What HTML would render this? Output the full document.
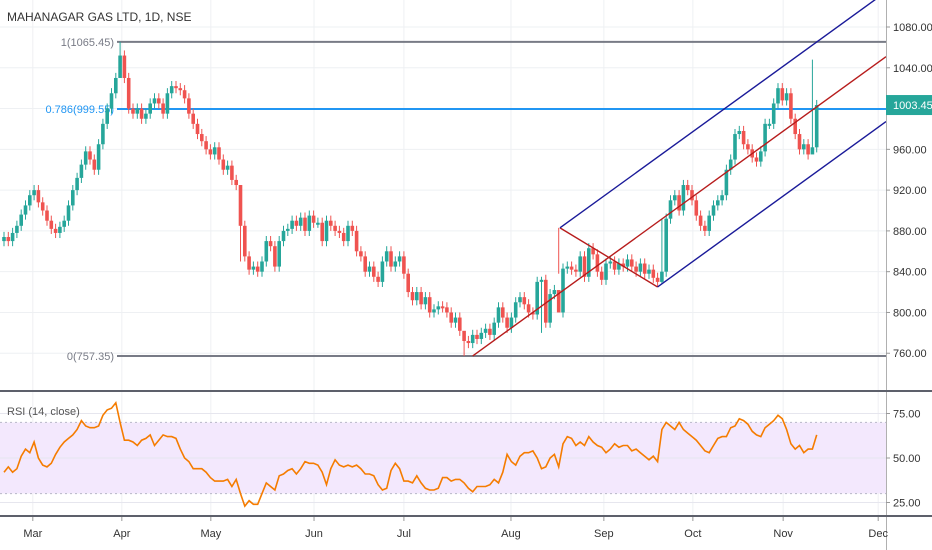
<!DOCTYPE html>
<html><head><meta charset="utf-8"><style>
html,body{margin:0;padding:0;background:#fff;}
svg{display:block;font-family:"Liberation Sans",sans-serif;}
</style></head><body>
<svg id="chart" width="932" height="550" viewBox="0 0 932 550"></svg>
<script>
const closes=[874,870,878,885,896,905,915,920,908,900,890,882,878,884,890,905,920,932,945,958,950,940,965,985,1000,1015,1030,1052,1030,1000,995,1000,990,995,1005,1010,1005,995,1015,1022,1020,1018,1010,995,985,975,968,960,955,962,950,940,944,930,925,885,855,842,845,840,850,870,865,845,870,880,882,890,885,893,880,895,888,888,870,890,885,880,878,870,885,880,860,855,840,845,835,830,850,860,845,850,855,838,820,812,820,808,815,800,803,806,805,800,790,795,782,772,770,778,774,780,784,778,790,805,795,785,795,810,815,808,800,798,830,832,790,818,822,800,843,845,842,840,855,835,863,857,840,832,848,850,842,848,845,852,845,840,848,838,842,834,830,840,892,910,915,900,925,920,910,895,885,880,895,905,910,915,940,950,975,978,965,960,952,948,958,985,985,1005,1020,1008,1015,990,975,960,965,955,962,1003.45];
const rsi=[42,45,42,44,51,55,53,59,50,46,45,47,52,56,59,61,63,66,71,68,67,67,68,74,77,78,81,70,60,60,59,57,60,61,63,57,60,63,62,62,61,55,50,48,44,44,44,42,39,37,37,37,38,34,38,30,23,26,24,24,30,36,34,32,40,41,43,44,41,44,48,47,47,46,42,35,44,49,46,45,46,45,46,44,41,41,40,35,32,33,43,47,44,37,37,36,40,36,33,32,32,33,39,39,37,38,38,36,33,31,34,34,34,35,38,36,42,52,48,46,51,53,53,54,50,44,45,50,52,45,58,62,61,57,59,57,62,59,57,56,53,55,58,56,57,57,54,55,53,51,49,51,48,66,70,68,66,70,66,64,62,60,57,54,53,57,61,62,62,67,68,72,71,69,65,63,62,67,69,71,74,72,66,58,55,57,53,55,55,63];
const wickOverrides={27:[1065.45,1040],188:[1048,960],153:[892,828],129:[883,838],125:[835,780],55:[925,850],107:[778,757.35]};
const priceTicks=[760,800,840,880,920,960,1000,1040,1080];
const rsiTicks=[25,50,75];
const monthLabels=["Mar","Apr","May","Jun","Jul","Aug","Sep","Oct","Nov","Dec"];
const monthIdx=[6.7,27.4,48.1,72.1,93,117.9,139.5,160.2,181.2,203.3];
const fibLevels=[{label:"1(1065.45)",p:1065.45,c:"#787b86"},{label:"0.786(999.55)",p:999.55,c:"#2196f3"},{label:"0(757.35)",p:757.35,c:"#787b86"}];
const forkI=[109,129.3,152];
const forkP=[757.35,883,825];
const lastPrice=1003.45;

const NS="http://www.w3.org/2000/svg";
const svg=document.getElementById('chart');
const X=i=>4+i*4.3;
const Y=p=>27+(1080-p)*1.0195;
const RY=v=>458-(v-50)*1.78;
function mk(tag,attrs,parent){const e=document.createElementNS(NS,tag);for(const k in attrs)e.setAttribute(k,attrs[k]);(parent||svg).appendChild(e);return e;}

const grid=mk('g',{});


priceTicks.forEach(p=>{const l=mk('line',{x1:0,x2:886,y1:Y(p),y2:Y(p),stroke:'#eef0f3','stroke-width':1},grid);});
monthIdx.forEach(m=>{const l=mk('line',{x1:X(m),x2:X(m),y1:0,y2:516,stroke:'#eef0f3','stroke-width':1},grid);});

const band=mk('rect',{x:0,y:RY(70),width:886,height:RY(30)-RY(70),fill:'#f3e8fd'});


rsiTicks.forEach(v=>{const l=mk('line',{x1:0,x2:886,y1:RY(v),y2:RY(v),stroke:'#e6e6ee','stroke-width':1});});
[70,30].forEach(v=>{const l=mk('line',{x1:0,x2:886,y1:RY(v),y2:RY(v),stroke:'#b8b8c8','stroke-width':1,'stroke-dasharray':'2,3'});});

fibLevels.forEach(f=>{
 const l=mk('line',{x1:117,x2:886,y1:Y(f.p),y2:Y(f.p),stroke:f.c,'stroke-width':2});
 
 
 const t=mk('text',{x:114,y:Y(f.p)+4,'text-anchor':'end','font-size':11,fill:f.c});
 t.textContent=f.label;
 
 
});

const cg=mk('g',{});


closes.forEach((c,i)=>{
 const o=i===0?c-4:closes[i-1];
 const up=c>=o;
 const col=up?'#26a69a':'#ef5350';
 let hi=Math.max(o,c)+5, lo=Math.min(o,c)-5;
 if(wickOverrides[i]){hi=wickOverrides[i][0];lo=wickOverrides[i][1];}
 const g=mk('g',{},cg);
 
 
 mk('line',{x1:X(i),x2:X(i),y1:Y(hi),y2:Y(lo),stroke:col,'stroke-width':1},g);
 const top=Y(Math.max(o,c)),h=Math.max(2,Math.abs(Y(o)-Y(c)));
 mk('rect',{x:X(i)-1.8,y:top,width:3.6,height:h,fill:col},g);
});

const fx=forkI.map(X), fy=forkP.map(Y);
const mx=(fx[1]+fx[2])/2, my=(fy[1]+fy[2])/2;
const slope=(my-fy[0])/(mx-fx[0]);
const ext=(x0,y0)=>[886,y0+slope*(886-x0)];
const med=ext(fx[0],fy[0]);
const ml=mk('line',{x1:fx[0],y1:fy[0],x2:med[0],y2:med[1],stroke:'#b71c1c','stroke-width':1.4});


const hl=mk('line',{x1:fx[1],y1:fy[1],x2:fx[2],y2:fy[2],stroke:'#b71c1c','stroke-width':1.4});


const u=ext(fx[1],fy[1]);
const ul=mk('line',{x1:fx[1],y1:fy[1],x2:u[0],y2:u[1],stroke:'#1a1a99','stroke-width':1.4});


const d=ext(fx[2],fy[2]);
const dl=mk('line',{x1:fx[2],y1:fy[2],x2:d[0],y2:d[1],stroke:'#1a1a99','stroke-width':1.4});



const pts=rsi.map((v,i)=>X(i).toFixed(1)+','+RY(v).toFixed(1)).join(' ');
const rl=mk('polyline',{points:pts,fill:'none',stroke:'#f57c00','stroke-width':1.6});



mk('rect',{x:886,y:0,width:46,height:550,fill:'#fff'});
mk('rect',{x:0,y:517,width:932,height:33,fill:'#fff'});
const ax=mk('line',{x1:886.5,x2:886.5,y1:0,y2:550,stroke:'#b0b0b0','stroke-width':1});


[391,516].forEach(y=>{const l=mk('line',{x1:0,x2:932,y1:y,y2:y,stroke:'#5d606b','stroke-width':2});});
priceTicks.forEach(p=>{
 const t=mk('text',{x:893,y:Y(p)+4,'font-size':11,fill:'#333'});t.textContent=p.toFixed(2);
 
 
 mk('line',{x1:886,x2:890,y1:Y(p),y2:Y(p),stroke:'#999'});
});
rsiTicks.forEach(v=>{
 const t=mk('text',{x:893,y:RY(v)+4,'font-size':11,fill:'#333'});t.textContent=v.toFixed(2);
 
 
 mk('line',{x1:886,x2:890,y1:RY(v),y2:RY(v),stroke:'#999'});
});
monthLabels.forEach((m,k)=>{
 const t=mk('text',{x:X(monthIdx[k]),y:537,'text-anchor':'middle','font-size':11,fill:'#333'});t.textContent=m;
 
 
 mk('line',{x1:X(monthIdx[k]),x2:X(monthIdx[k]),y1:517,y2:521,stroke:'#999'});
});
const pl=mk('rect',{x:886,y:Y(lastPrice)-10,width:46,height:20,fill:'#26a69a'});


const plt=mk('text',{x:893,y:Y(lastPrice)+4,'font-size':11,fill:'#fff'});plt.textContent=lastPrice.toFixed(2);



const title=mk('text',{x:7,y:21,'font-size':12,fill:'#333'});title.textContent='MAHANAGAR GAS LTD, 1D, NSE';


const rt=mk('text',{x:7,y:415,'font-size':11,fill:'#555'});rt.textContent='RSI (14, close)';


</script>
</body></html>
